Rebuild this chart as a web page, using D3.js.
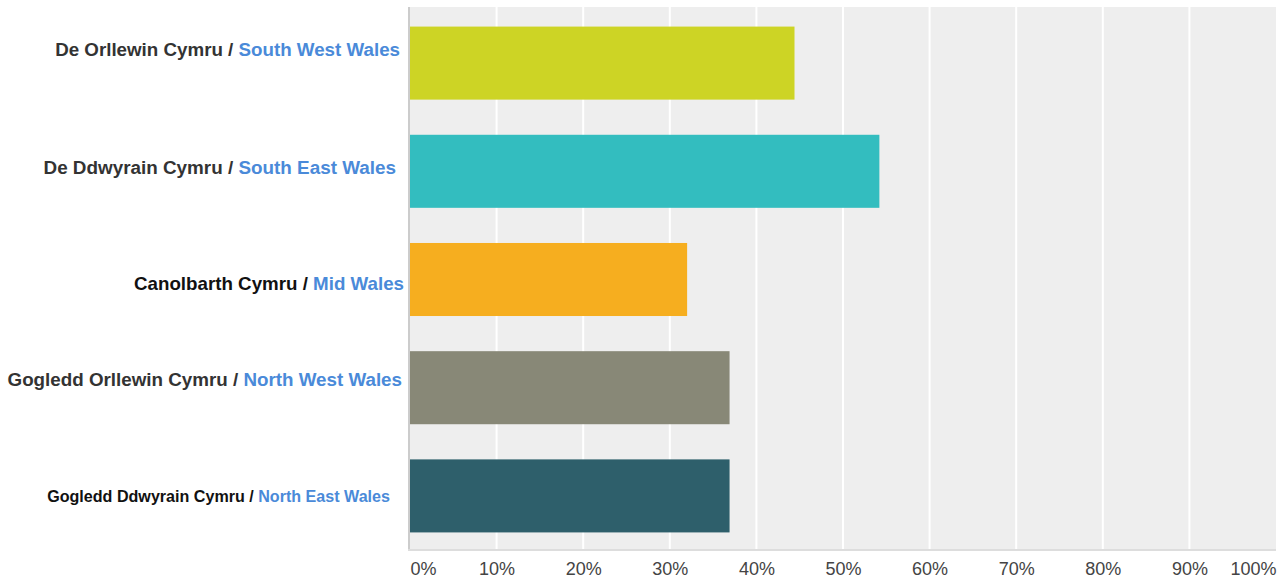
<!DOCTYPE html>
<html><head><meta charset="utf-8">
<script src="https://cdn.jsdelivr.net/npm/d3@7"></script>
<style>
html,body{margin:0;padding:0;background:#fff;}
svg{display:block;font-family:"Liberation Sans",Arial,sans-serif;}
</style></head>
<body><svg id="chart" width="1283" height="581"></svg>
<script>
// ---- data ----
const welshNames = ["De Orllewin Cymru / ", "De Ddwyrain Cymru / ", "Canolbarth Cymru / ", "Gogledd Orllewin Cymru / ", "Gogledd Ddwyrain Cymru / "];
const englishNames = ["South West Wales", "South East Wales", "Mid Wales", "North West Wales", "North East Wales"];
const values = [44.4, 54.2, 32.0, 36.9, 36.9];
const barColors = ["#cdd425", "#33bdbf", "#f6ae1f", "#888877", "#2e5f6b"];
const tickValues = [0, 10, 20, 30, 40, 50, 60, 70, 80, 90, 100];
const tickLabels = ["0%", "10%", "20%", "30%", "40%", "50%", "60%", "70%", "80%", "90%", "100%"];

// ---- layout (not data) ----
const labelStyle = [
  {size: 18.76, dy: -14, right: 400, welshColor: "#333"},
  {size: 18.87, dy: -4, right: 396, welshColor: "#333"},
  {size: 18.74, dy: 4, right: 404, welshColor: "#111"},
  {size: 18.8, dy: -8, right: 402, welshColor: "#333"},
  {size: 16.1, dy: 0, right: 390, welshColor: "#111"}
];

(function () {
const svg = d3.select("#chart");
const mLeft = 410, mRight = 1276, mTop = 7, mBottom = 549;

const x = d3.scaleLinear().domain([0, 100]).range([mLeft, mRight]);
const y = d3.scaleBand().domain(d3.range(values.length)).range([mTop + 2, mBottom + 1])
  .paddingInner(0.325).paddingOuter(0.1625);

svg.append("rect").attr("x", mLeft).attr("y", mTop).attr("width", mRight - mLeft).attr("height", mBottom - mTop).attr("fill", "#eeeeee");

svg.append("g").selectAll("line").data(tickValues.filter(d => d > 0 && d < 100)).join("line")
  .attr("x1", d => x(d)).attr("x2", d => x(d)).attr("y1", mTop).attr("y2", mBottom)
  .attr("stroke", "#ffffff").attr("stroke-width", 2);

svg.append("g").selectAll("rect").data(values).join("rect")
  .attr("x", x(0)).attr("y", (d, i) => y(i))
  .attr("width", d => x(d) - x(0)).attr("height", y.bandwidth())
  .attr("fill", (d, i) => barColors[i]);

svg.append("line").attr("x1", mLeft - 1).attr("x2", mLeft - 1).attr("y1", mTop).attr("y2", mBottom + 2)
  .attr("stroke", "#cccccc").attr("stroke-width", 2);
svg.append("line").attr("x1", mLeft - 2).attr("x2", mRight).attr("y1", mBottom + 1).attr("y2", mBottom + 1)
  .attr("stroke", "#dddddd").attr("stroke-width", 2);

const xAxis = d3.axisBottom(x).tickValues(tickValues).tickFormat((d, i) => tickLabels[i]).tickSize(0).tickPadding(0);
const gx = svg.append("g").attr("transform", `translate(0,${mBottom})`).call(xAxis);
gx.select(".domain").remove();
gx.selectAll("text")
  .attr("y", 26).attr("dy", 0)
  .attr("font-size", 18).attr("font-family", "Liberation Sans, Arial, sans-serif")
  .attr("fill", "#444")
  .attr("text-anchor", (d, i) => i === 0 ? "start" : (i === tickValues.length - 1 ? "end" : "middle"));

const gl = svg.append("g");
values.forEach((v, i) => {
  const st = labelStyle[i];
  const t = gl.append("text")
    .attr("x", st.right)
    .attr("y", y(i) + y.bandwidth() / 2 + st.dy)
    .attr("dy", "0.35em")
    .attr("text-anchor", "end")
    .attr("font-weight", "bold")
    .attr("font-size", st.size);
  t.append("tspan").attr("fill", st.welshColor).text(welshNames[i]);
  t.append("tspan").attr("fill", "#4a8ad9").text(englishNames[i]);
});
})();
</script></body></html>
